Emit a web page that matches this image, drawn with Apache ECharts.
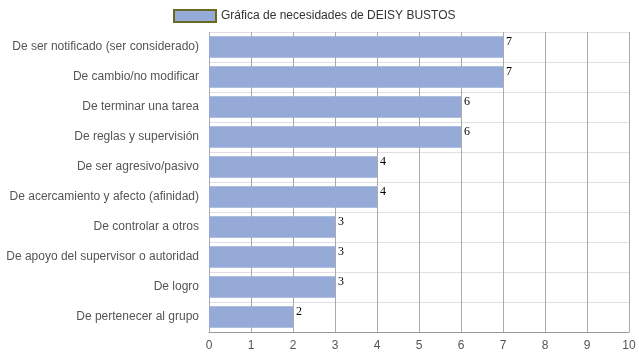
<!DOCTYPE html>
<html>
<head>
<meta charset="utf-8">
<script src="https://cdn.jsdelivr.net/npm/echarts@6/dist/echarts.min.js"></script>
<style>html,body{margin:0;padding:0;background:#fff;}#c{width:639px;height:360px;}</style>
</head>
<body>
<div id="c"></div>
<script>
const categories = [
  "De ser notificado (ser considerado)",
  "De cambio/no modificar",
  "De terminar una tarea",
  "De reglas y supervisión",
  "De ser agresivo/pasivo",
  "De acercamiento y afecto (afinidad)",
  "De controlar a otros",
  "De apoyo del supervisor o autoridad",
  "De logro",
  "De pertenecer al grupo"
];
const values = [7, 7, 6, 6, 4, 4, 3, 3, 3, 2];
const seriesName = "Gráfica de necesidades de DEISY BUSTOS";
const xTicks = [0, 1, 2, 3, 4, 5, 6, 7, 8, 9, 10];

const chart = echarts.init(document.getElementById('c'));
chart.setOption({
  animation: false,
  legend: {
    top: 4, left: 168,
    icon: 'rect',
    itemWidth: 42, itemHeight: 12,
    textStyle: {fontFamily: 'Liberation Sans, Arial', fontSize: 12, color: '#333'},
    data: [{name: seriesName, itemStyle: {color: '#95aad6', borderColor: '#6b6b1f', borderWidth: 2}}]
  },
  grid: {left: 209, right: 10, top: 32, bottom: 28, containLabel: false},
  xAxis: {
    type: 'value', min: xTicks[0], max: xTicks[xTicks.length - 1], interval: 1,
    axisLine: {show: true, lineStyle: {color: '#999'}},
    axisTick: {show: false},
    axisLabel: {color: '#555', fontFamily: 'Liberation Sans, Arial', fontSize: 12, margin: 8},
    splitLine: {show: true, lineStyle: {color: '#aaa', width: 1}}
  },
  yAxis: {
    type: 'category', data: categories, inverse: true,
    axisLine: {show: false},
    axisTick: {show: false},
    axisLabel: {color: '#555', fontFamily: 'Liberation Sans, Arial', fontSize: 12, margin: 10, interval: 0},
    splitLine: {show: true, interval: 0, lineStyle: {color: '#e0e0e0'}}
  },
  series: [{
    name: seriesName, type: 'bar', data: values,
    barCategoryGap: '28%',
    itemStyle: {color: '#95aad6'},
    label: {
      show: true, position: ['100%', 0], offset: [3, 0],
      fontFamily: 'Liberation Serif, Times New Roman', fontSize: 12, color: '#000'
    }
  }]
});
</script>
</body>
</html>
